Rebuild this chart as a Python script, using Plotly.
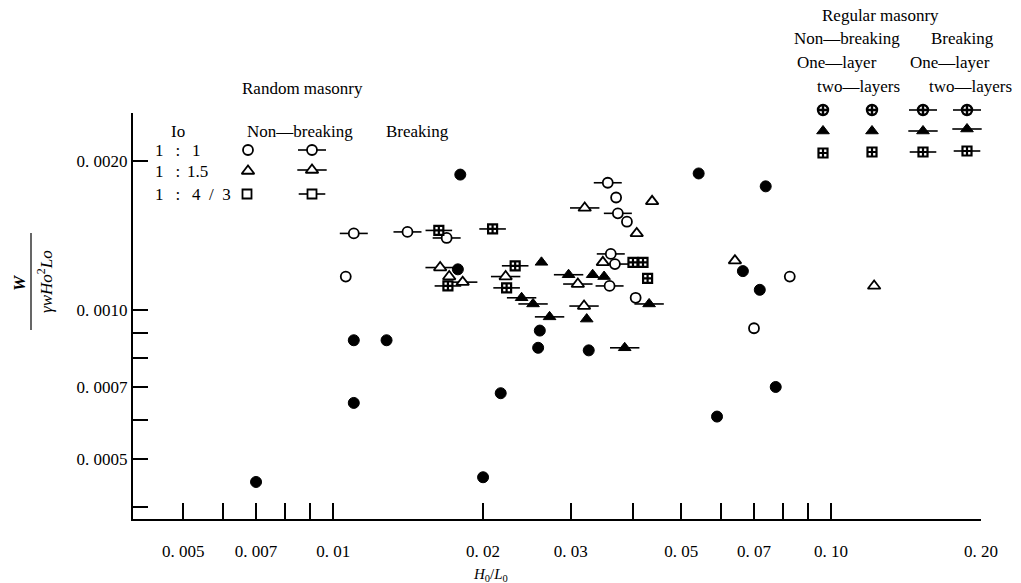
import plotly.graph_objects as go

# ---------------- data ----------------
# Random masonry, open symbols
circ_x = [0.0106, 0.0370, 0.0389, 0.0405, 0.0826, 0.0700]
circ_y = [0.00117, 0.00169, 0.00151, 0.00106, 0.00117, 0.00092]
circ_dash_x = [0.0110, 0.0141, 0.0169, 0.0356, 0.0373, 0.0361, 0.0368, 0.0359]
circ_dash_y = [0.00143, 0.00144, 0.00140, 0.00181, 0.00157, 0.00130, 0.00124, 0.00112]
tri_x = [0.0437, 0.0407, 0.0348, 0.0641, 0.122, 0.0171]
tri_y = [0.00166, 0.00143, 0.00125, 0.00126, 0.00112, 0.00117]
tri_dash_x = [0.0320, 0.0164, 0.0182, 0.0222, 0.0310, 0.0319]
tri_dash_y = [0.00161, 0.00122, 0.00114, 0.00117, 0.00113, 0.00102]
# Regular masonry symbols
sq_reg_x = [0.0400, 0.0419, 0.0428]
sq_reg_y = [0.00125, 0.00125, 0.00116]
sq_reg_dash_x = [0.0163, 0.0209, 0.0232, 0.0223, 0.0170]
sq_reg_dash_y = [0.00145, 0.00146, 0.00123, 0.00111, 0.00112]
ftri_x = [0.0262, 0.0332, 0.0350, 0.0323]
ftri_y = [0.00125, 0.00118, 0.00117, 0.00096]
ftri_dash_x = [0.0239, 0.0252, 0.0272, 0.0297, 0.0431, 0.0385]
ftri_dash_y = [0.00106, 0.00103, 0.00097, 0.00118, 0.00103, 0.00084]
# Filled dots
dot_x = [0.0180, 0.0542, 0.0739, 0.0665, 0.0719, 0.0110, 0.0128, 0.0110, 0.0260,
         0.0258, 0.0326, 0.0217, 0.0590, 0.0774, 0.0200, 0.0070, 0.0178]
dot_y = [0.00188, 0.00189, 0.00178, 0.00120, 0.00110, 0.00087, 0.00087, 0.00065, 0.00091,
         0.00084, 0.00083, 0.00068, 0.00061, 0.00070, 0.00046, 0.00045, 0.00121]

# axis ticks
x_tickvals = [0.005, 0.007, 0.01, 0.02, 0.03, 0.05, 0.07, 0.10, 0.20]
x_ticktext = ["0. 005", "0. 007", "0. 01", "0. 02", "0. 03", "0. 05", "0. 07", "0. 10", "0. 20"]
x_minor = [0.006, 0.008, 0.009, 0.04, 0.06, 0.08, 0.09]
y_tickvals = [0.0005, 0.0007, 0.0010, 0.0020]
y_ticktext = ["0. 0005", "0. 0007", "0. 0010", "0. 0020"]
y_minor = [0.0004, 0.0006, 0.0008, 0.0009]

# ---------------- layout helpers ----------------
W, H = 1021, 583
L, R, T, B = 133, 981, 113, 519
FONT = "Liberation Serif"
BLACK = "black"
FS = 17
SP = "\u2002\u2009"

fig = go.Figure()


def add_points(xs, ys, symbol, fill, size, lw, dash=False, axes=("x", "y")):
    if dash:
        fig.add_trace(go.Scatter(
            x=xs, y=ys, mode="markers", xaxis=axes[0], yaxis=axes[1],
            cliponaxis=False, showlegend=False, hoverinfo="skip",
            marker=dict(symbol="line-ew", size=size + 10,
                        line=dict(color=BLACK, width=1.6))))
    fig.add_trace(go.Scatter(
        x=xs, y=ys, mode="markers", xaxis=axes[0], yaxis=axes[1],
        cliponaxis=False, showlegend=False,
        marker=dict(symbol=symbol, size=size, color=fill,
                    line=dict(color=BLACK, width=lw))))


add_points(circ_dash_x, circ_dash_y, "circle", "white", 10, 1.8, dash=True)
add_points(circ_x, circ_y, "circle", "white", 10, 1.8)
add_points(tri_dash_x, tri_dash_y, "triangle-up", "white", 11, 1.8, dash=True)
add_points(tri_x, tri_y, "triangle-up", "white", 11, 1.8)
add_points(sq_reg_dash_x, sq_reg_dash_y, "square-cross", "white", 9, 2.2, dash=True)
add_points(sq_reg_x, sq_reg_y, "square-cross", "white", 9, 2.2)
add_points(ftri_dash_x, ftri_dash_y, "triangle-up", BLACK, 11, 1, dash=True)
add_points(ftri_x, ftri_y, "triangle-up", BLACK, 11, 1)
add_points(dot_x, dot_y, "circle", BLACK, 11, 1)

# legend keys, positioned in pixel space on a hidden full-figure axis pair
A2 = ("x2", "y2")
add_points([248], [150], "circle", "white", 10, 1.8, axes=A2)
add_points([248], [171], "triangle-up", "white", 11, 1.8, axes=A2)
add_points([247], [194], "square", "white", 9, 1.8, axes=A2)
add_points([312], [150], "circle", "white", 10, 1.8, dash=True, axes=A2)
add_points([312], [170], "triangle-up", "white", 11, 1.8, dash=True, axes=A2)
add_points([312], [194], "square", "white", 9, 1.8, dash=True, axes=A2)

reg_cols = [823, 872, 923, 967]
add_points(reg_cols[:2], [110, 110], "circle-cross", "white", 10, 2.4, axes=A2)
add_points(reg_cols[2:], [110, 110], "circle-cross", "white", 10, 2.4, dash=True, axes=A2)
add_points(reg_cols[:2], [131, 131], "triangle-up", BLACK, 11, 1, axes=A2)
add_points(reg_cols[2:], [131, 129], "triangle-up", BLACK, 11, 1, dash=True, axes=A2)
add_points(reg_cols[:2], [153, 152], "square-cross", "white", 9, 2.2, axes=A2)
add_points(reg_cols[2:], [152, 151], "square-cross", "white", 9, 2.2, dash=True, axes=A2)

annotations = []


def txt(x, y, s, size=FS, xanchor="center", angle=0):
    annotations.append(dict(x=x, y=y, xref="x2", yref="y2", text=s,
                            showarrow=False, xanchor=xanchor, yanchor="middle",
                            textangle=angle,
                            font=dict(family=FONT, size=size, color=BLACK)))


txt(302, 88, "Random masonry")
txt(178, 131, "Io")
txt(300, 131, "Non—breaking")
txt(417, 131, "Breaking")
txt(153, 150, f"1{SP}:{SP}1", xanchor="left")
txt(153, 171, f"1{SP}:\u2009\u20091.5", xanchor="left")
txt(153, 194, f"1{SP}:{SP}4\u2002/\u20023", xanchor="left")

txt(880, 15, "Regular masonry")
txt(847, 38, "Non—breaking")
txt(962, 38, "Breaking")
txt(837, 62, "One—layer")
txt(950, 62, "One—layer")
txt(858, 86, "two—layers")
txt(970, 86, "two—layers")

txt(490, 575, "<i>H</i><sub>0</sub>/<i>L</i><sub>0</sub>", size=15)
txt(19, 283, "<b><i>W</i></b>", size=17, angle=-90)
txt(45, 282, "<i>γwHo</i><sup>2</sup><i>Lo</i>", size=17, angle=-90)

fig.add_shape(type="line", xref="x2", yref="y2",
              x0=31, x1=31, y0=233, y1=330,
              line=dict(color=BLACK, width=1.2))

axis_common = dict(showgrid=False, zeroline=False, showline=True, linecolor=BLACK,
                   linewidth=2, ticks="inside", tickcolor=BLACK, tickwidth=2,
                   automargin=False,
                   tickfont=dict(family=FONT, size=FS, color=BLACK))

fig.update_layout(
    width=W, height=H, autosize=False,
    margin=dict(l=0, r=0, t=0, b=0),
    paper_bgcolor="white", plot_bgcolor="rgba(0,0,0,0)",
    showlegend=False,
    annotations=annotations,
    xaxis=dict(type="log", range=[-2.402, -0.699], domain=[L / W, R / W],
               anchor="y", tickvals=x_tickvals, ticktext=x_ticktext,
               ticklen=16, ticklabelstandoff=16,
               minor=dict(tickvals=x_minor, ticks="inside", ticklen=16,
                          tickwidth=2, tickcolor=BLACK, showgrid=False),
               **axis_common),
    yaxis=dict(type="log", range=[-3.4216, -2.6014],
               domain=[(H - B) / H, (H - T) / H], anchor="x",
               tickvals=y_tickvals, ticktext=y_ticktext, ticklen=15,
               minor=dict(tickvals=y_minor, ticks="inside", ticklen=15,
                          tickwidth=2, tickcolor=BLACK, showgrid=False),
               **axis_common),
    xaxis2=dict(domain=[0, 1], anchor="y2", range=[0, W], visible=False),
    yaxis2=dict(domain=[0, 1], anchor="x2", range=[H, 0], visible=False),
)

fig.write_html("out.html")
